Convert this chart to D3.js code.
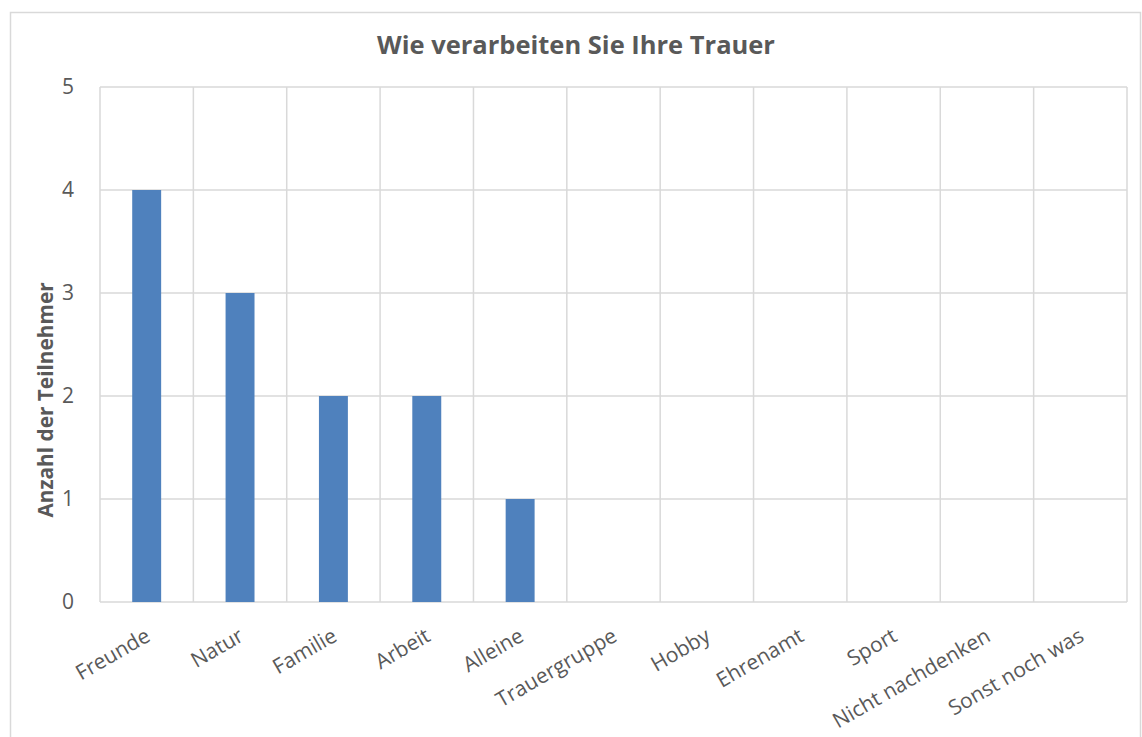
<!DOCTYPE html>
<html>
<head>
<meta charset="utf-8">
<script src="https://cdn.jsdelivr.net/npm/d3@7"></script>
<style>
  body { margin: 0; background: #fff; }
  text { font-family: "Open Sans", "Liberation Sans", sans-serif; fill: #595959; }
</style>
</head>
<body>
<div id="chart"></div>
<script>
// Daten
var categories = ["Freunde", "Natur", "Familie", "Arbeit", "Alleine", "Trauergruppe",
  "Hobby", "Ehrenamt", "Sport", "Nicht nachdenken", "Sonst noch was"];
var values = [4, 3, 2, 2, 1, 0, 0, 0, 0, 0, 0];
var yTicks = [0, 1, 2, 3, 4, 5];
var title = "Wie verarbeiten Sie Ihre Trauer";
var yLabel = "Anzahl der Teilnehmer";

var W = 1142, H = 737;
var margin = {top: 87, right: 15, bottom: 135, left: 100};
var width = 1127 - margin.left;
var height = 602 - margin.top;

var svg = d3.select("#chart").append("svg")
  .attr("width", W)
  .attr("height", H);

// Rahmen
svg.append("rect")
  .attr("x", 10.5).attr("y", 12.5)
  .attr("width", 1130).attr("height", 740)
  .attr("fill", "none")
  .attr("stroke", "#d9d9d9")
  .attr("stroke-width", 1.5);

var g = svg.append("g")
  .attr("transform", "translate(" + margin.left + "," + margin.top + ")");

var x = d3.scaleBand()
  .domain(categories)
  .range([0, width])
  .paddingInner(0.69)
  .paddingOuter(0.345);

var xb = d3.scaleBand().domain(categories).range([0, width]);

var y = d3.scaleLinear()
  .domain([0, 5])
  .range([height, 0]);

// Gitternetz horizontal
g.selectAll(".hgrid")
  .data(yTicks)
  .enter().append("line")
  .attr("x1", 0).attr("x2", width)
  .attr("y1", function(d) { return y(d); })
  .attr("y2", function(d) { return y(d); })
  .attr("stroke", "#d9d9d9")
  .attr("stroke-width", 1.5);

// Gitternetz vertikal
var vlines = categories.map(function(c) { return xb(c); }).concat([width]);
g.selectAll(".vgrid")
  .data(vlines)
  .enter().append("line")
  .attr("x1", function(d) { return d; })
  .attr("x2", function(d) { return d; })
  .attr("y1", 0).attr("y2", height)
  .attr("stroke", "#d9d9d9")
  .attr("stroke-width", 1.5);

// Balken
g.selectAll(".bar")
  .data(values)
  .enter().append("rect")
  .attr("x", function(d, i) { return x(categories[i]); })
  .attr("y", function(d) { return y(d); })
  .attr("width", x.bandwidth())
  .attr("height", function(d) { return height - y(d); })
  .attr("fill", "#4f81bd");

// y-Achse
var yAxis = g.append("g")
  .call(d3.axisLeft(y).tickValues(yTicks).tickSize(0).tickPadding(26).tickFormat(d3.format("d")));
yAxis.select(".domain").remove();
yAxis.selectAll("text")
  .style("font-size", "21px")
  .style("fill", "#595959");

// x-Achse Beschriftung
var xAxis = g.append("g")
  .attr("transform", "translate(0," + height + ")")
  .call(d3.axisBottom(xb).tickSize(0).tickPadding(0));
xAxis.select(".domain").remove();
xAxis.selectAll("text")
  .style("font-size", "21px")
  .style("fill", "#595959")
  .attr("text-anchor", "end")
  .attr("dy", "0")
  .attr("y", 0)
  .attr("transform", "translate(5,38) rotate(-30)");

// Titel
svg.append("text")
  .attr("x", 576)
  .attr("y", 54)
  .attr("text-anchor", "middle")
  .style("font-size", "25.5px")
  .style("font-weight", "bold")
  .text(title);

// y-Achsentitel
svg.append("text")
  .attr("transform", "translate(53,400) rotate(-90)")
  .attr("text-anchor", "middle")
  .style("font-size", "20.8px")
  .style("font-weight", "bold")
  .text(yLabel);
</script>
</body>
</html>
